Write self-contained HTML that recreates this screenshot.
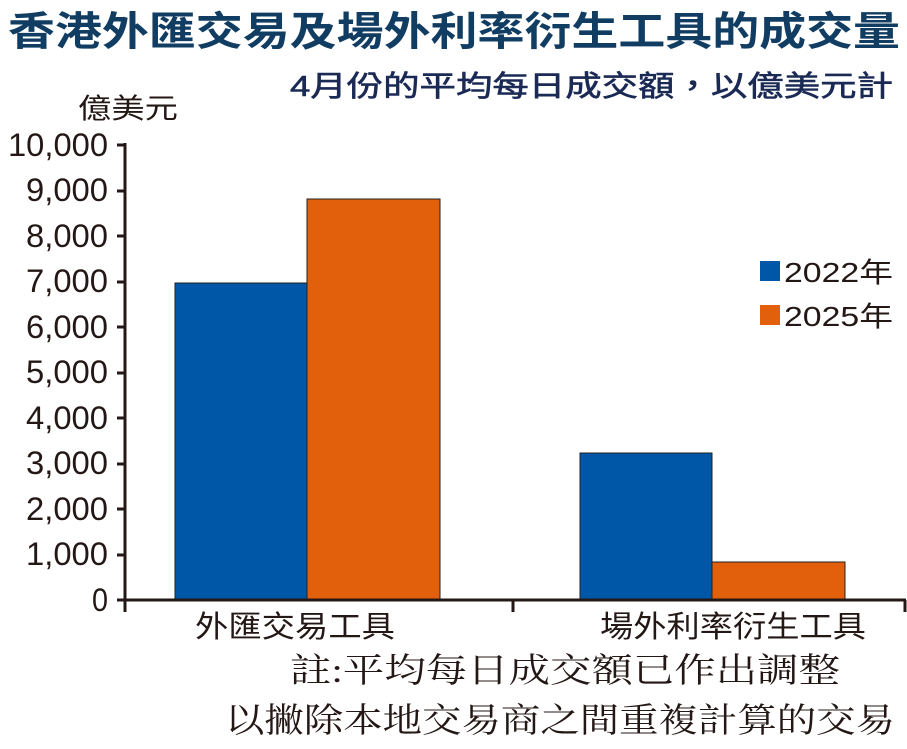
<!DOCTYPE html>
<html><head><meta charset="utf-8"><style>
html,body{margin:0;padding:0;background:#fff;}
svg{display:block}
.s{font-family:"Liberation Sans","Noto Sans CJK TC",sans-serif;}
.r{font-family:"Liberation Serif","Noto Serif CJK SC",serif;}
</style></head><body>
<svg width="907" height="749" viewBox="0 0 907 749" xmlns="http://www.w3.org/2000/svg">
<text class="s" x="8" y="45" font-size="40" font-weight="bold" fill="#123d63" textLength="892" lengthAdjust="spacingAndGlyphs">香港外匯交易及場外利率衍生工具的成交量</text>
<text class="s" x="290" y="96" font-size="29" fill="#1a2a55" stroke="#1a2a55" stroke-width="0.6" textLength="603" lengthAdjust="spacingAndGlyphs">4月份的平均每日成交額，以億美元計</text>
<text class="s" x="78" y="118" font-size="28" fill="#231815" textLength="100" lengthAdjust="spacingAndGlyphs">億美元</text>
<g class="s" font-size="32" fill="#231815" text-anchor="end" lengthAdjust="spacingAndGlyphs">
<text x="108" y="156" textLength="100" lengthAdjust="spacingAndGlyphs">10,000</text>
<text x="108" y="201" textLength="82" lengthAdjust="spacingAndGlyphs">9,000</text>
<text x="108" y="247" textLength="82" lengthAdjust="spacingAndGlyphs">8,000</text>
<text x="108" y="292" textLength="82" lengthAdjust="spacingAndGlyphs">7,000</text>
<text x="108" y="338" textLength="82" lengthAdjust="spacingAndGlyphs">6,000</text>
<text x="108" y="383" textLength="82" lengthAdjust="spacingAndGlyphs">5,000</text>
<text x="108" y="429" textLength="82" lengthAdjust="spacingAndGlyphs">4,000</text>
<text x="108" y="474" textLength="82" lengthAdjust="spacingAndGlyphs">3,000</text>
<text x="108" y="520" textLength="82" lengthAdjust="spacingAndGlyphs">2,000</text>
<text x="108" y="565" textLength="82" lengthAdjust="spacingAndGlyphs">1,000</text>
<text x="108" y="611" textLength="16" lengthAdjust="spacingAndGlyphs">0</text>
</g>
<g fill="#0057a8" stroke="#222" stroke-width="1">
<rect x="175" y="283" width="132" height="317"/><rect x="580" y="453" width="132" height="147"/>
</g>
<g fill="#e2600b" stroke="#222" stroke-width="1">
<rect x="307" y="199" width="133" height="401"/><rect x="712" y="562" width="133" height="38"/>
</g>
<g stroke="#231815" stroke-width="3">
<line x1="125" y1="143" x2="125" y2="612"/>
<line x1="117" y1="600" x2="906" y2="600"/>
<line x1="513" y1="600" x2="513" y2="612"/>
<line x1="905" y1="600" x2="905" y2="612"/>
<line x1="117" y1="145" x2="125" y2="145"/><line x1="117" y1="191" x2="125" y2="191"/><line x1="117" y1="236" x2="125" y2="236"/><line x1="117" y1="282" x2="125" y2="282"/><line x1="117" y1="327" x2="125" y2="327"/><line x1="117" y1="373" x2="125" y2="373"/><line x1="117" y1="418" x2="125" y2="418"/><line x1="117" y1="464" x2="125" y2="464"/><line x1="117" y1="509" x2="125" y2="509"/><line x1="117" y1="555" x2="125" y2="555"/>
</g>
<rect x="760" y="261" width="20" height="20" fill="#0057a8"/>
<rect x="760" y="305" width="20" height="20" fill="#e2600b"/>
<text class="s" x="784" y="282" font-size="28" fill="#231815" textLength="109" lengthAdjust="spacingAndGlyphs">2022年</text>
<text class="s" x="784" y="326" font-size="28" fill="#231815" textLength="109" lengthAdjust="spacingAndGlyphs">2025年</text>
<text class="s" x="195" y="637" font-size="30" fill="#231815" textLength="200" lengthAdjust="spacingAndGlyphs">外匯交易工具</text>
<text class="s" x="600" y="637" font-size="30" fill="#231815" textLength="266" lengthAdjust="spacingAndGlyphs">場外利率衍生工具</text>
<text class="r" x="290" y="682" font-size="34" fill="#231815" textLength="550" lengthAdjust="spacingAndGlyphs">註:平均每日成交額已作出調整</text>
<text class="r" x="225" y="732" font-size="34" fill="#231815" textLength="670" lengthAdjust="spacingAndGlyphs">以撇除本地交易商之間重複計算的交易</text>
</svg>
</body></html>
